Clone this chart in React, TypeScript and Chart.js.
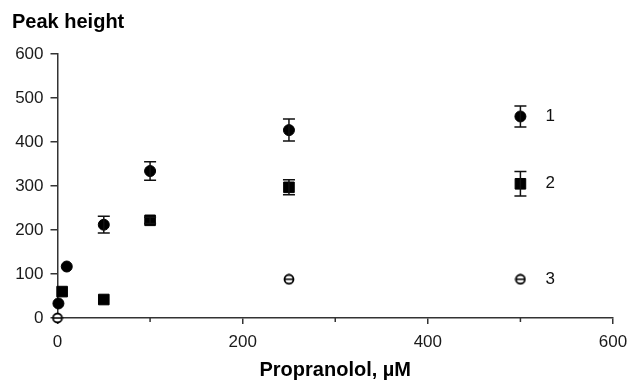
import React, { useEffect, useRef } from "react";
import { Chart, registerables } from "chart.js";

Chart.register(...registerables);

// Series 1 (filled circles)
const s1X = [1, 10, 50, 100, 250, 500];
const s1Y = [33, 117, 212, 334, 427, 458];
const s1Err = [0, 0, 19, 21, 25, 24];

// Series 2 (filled squares)
const s2X = [5, 50, 100, 250, 500];
const s2Y = [60, 42, 222, 297, 305];
const s2Err = [0, 0, 7, 17, 28];

// Series 3 (open circles)
const s3X = [0, 250, 500];
const s3Y = [0, 88, 88];
const s3Err = [0, 0, 0];

const seriesLabels = ["1", "2", "3"];
const xTicks = [0, 100, 200, 300, 400, 500, 600];
const yTicks = [0, 100, 200, 300, 400, 500, 600];

const FONT = "'Liberation Sans', Arial, Helvetica, sans-serif";
const AXIS = "#333333";

function toPoints(xs: number[], ys: number[]) {
  return xs.map((x, i) => ({ x, y: ys[i] }));
}

function makeTheta(): HTMLCanvasElement {
  const c = document.createElement("canvas");
  c.width = 12;
  c.height = 12;
  const g = c.getContext("2d")!;
  g.fillStyle = "#ffffff";
  g.strokeStyle = "#000000";
  g.lineWidth = 1.8;
  g.beginPath();
  g.arc(6, 6, 4.5, 0, Math.PI * 2);
  g.fill();
  g.stroke();
  g.lineWidth = 1.5;
  g.beginPath();
  g.moveTo(1.5, 6);
  g.lineTo(10.5, 6);
  g.stroke();
  return c;
}

const errs = [s1Err, s2Err, s3Err];

const errorBarPlugin = {
  id: "errorBars",
  afterDatasetsDraw(chart: any) {
    const { ctx } = chart;
    const yScale = chart.scales.y;
    ctx.save();
    ctx.strokeStyle = "#111111";
    ctx.lineWidth = 1.5;
    chart.data.datasets.forEach((ds: any, di: number) => {
      const meta = chart.getDatasetMeta(di);
      const e = errs[di];
      meta.data.forEach((el: any, i: number) => {
        const err = e[i];
        if (!err) return;
        const v = ds.data[i].y;
        const top = yScale.getPixelForValue(v + err);
        const bot = yScale.getPixelForValue(v - err);
        const x = el.x;
        ctx.beginPath();
        ctx.moveTo(x, top);
        ctx.lineTo(x, bot);
        ctx.moveTo(x - 6, top);
        ctx.lineTo(x + 6, top);
        ctx.moveTo(x - 6, bot);
        ctx.lineTo(x + 6, bot);
        ctx.stroke();
      });
    });
    ctx.restore();
  },
};

const extrasPlugin = {
  id: "extras",
  afterDraw(chart: any) {
    const { ctx } = chart;
    const xScale = chart.scales.x;
    ctx.save();
    // minor x ticks
    ctx.strokeStyle = AXIS;
    ctx.lineWidth = 1.5;
    xTicks.forEach((t) => {
      if (t % 200 === 0) return;
      const px = xScale.getPixelForValue(t);
      ctx.beginPath();
      ctx.moveTo(px, xScale.top);
      ctx.lineTo(px, xScale.top + 4);
      ctx.stroke();
    });
    // series labels
    ctx.fillStyle = "#111111";
    ctx.font = `17px ${FONT}`;
    ctx.textAlign = "left";
    ctx.textBaseline = "middle";
    chart.data.datasets.forEach((ds: any, di: number) => {
      const meta = chart.getDatasetMeta(di);
      const last = meta.data[meta.data.length - 1];
      ctx.fillText(seriesLabels[di], last.x + 25, last.y);
    });
    ctx.restore();
  },
};

export default function App() {
  const ref = useRef<HTMLCanvasElement>(null);

  useEffect(() => {
    document.body.style.margin = "0";
    const theta = makeTheta();
    const chart = new Chart(ref.current!, {
      type: "scatter",
      data: {
        datasets: [
          {
            data: toPoints(s1X, s1Y),
            pointStyle: "circle",
            pointRadius: 5.5,
            backgroundColor: "#000000",
            borderColor: "#000000",
            borderWidth: 1,
            clip: false,
          } as any,
          {
            data: toPoints(s2X, s2Y),
            pointStyle: "rect",
            pointRadius: 7.5,
            backgroundColor: "#000000",
            borderColor: "#000000",
            borderWidth: 1,
            clip: false,
          } as any,
          {
            data: toPoints(s3X, s3Y),
            pointStyle: theta,
            pointRadius: 6,
            backgroundColor: "#ffffff",
            borderColor: "#000000",
            clip: false,
          } as any,
        ],
      },
      options: {
        animation: false,
        responsive: false,
        events: [],
        layout: { padding: { left: 12, right: 19, top: 0, bottom: 0 } },
        plugins: {
          legend: { display: false },
          tooltip: { enabled: false },
          title: {
            display: true,
            text: "Peak height",
            align: "start",
            color: "#000000",
            font: { family: FONT, size: 20, weight: "bold", lineHeight: 1.2 },
            padding: { top: 10, bottom: 20 },
          },
        },
        scales: {
          x: {
            type: "linear",
            min: 0,
            max: 600,
            afterFit: (s: any) => {
              s.height = 62;
              s.paddingLeft = 0;
              s.paddingRight = 0;
            },
            afterBuildTicks: (s: any) => {
              s.ticks = xTicks.map((v) => ({ value: v }));
            },
            ticks: {
              color: "#1a1a1a",
              font: { family: FONT, size: 17 },
              padding: 8,
              maxRotation: 0,
              autoSkip: false,
              callback: (v: any) => (Number(v) % 200 === 0 ? String(v) : ""),
            },
            grid: {
              display: true,
              drawOnChartArea: false,
              drawTicks: true,
              tickLength: 6,
              lineWidth: 1.5,
              tickColor: (c: any) =>
                c.tick && c.tick.value % 200 === 0 ? AXIS : "rgba(0,0,0,0)",
            },
            border: { display: true, color: AXIS, width: 1.5 },
            title: {
              display: true,
              text: "Propranolol, µM",
              color: "#000000",
              font: { family: FONT, size: 20, weight: "bold", lineHeight: 1.0 },
              padding: { top: 0, bottom: 0 },
            },
          },
          y: {
            type: "linear",
            min: 0,
            max: 600,
            afterFit: (s: any) => {
              s.width = 45.5;
              s.paddingTop = 0;
              s.paddingBottom = 0;
            },
            afterBuildTicks: (s: any) => {
              s.ticks = yTicks.map((v) => ({ value: v }));
            },
            ticks: {
              color: "#1a1a1a",
              font: { family: FONT, size: 17 },
              padding: 7,
              autoSkip: false,
            },
            grid: {
              display: true,
              drawOnChartArea: false,
              drawTicks: true,
              tickLength: 7,
              lineWidth: 1.5,
              tickColor: AXIS,
            },
            border: { display: true, color: AXIS, width: 1.5 },
          },
        },
      },
      plugins: [errorBarPlugin, extrasPlugin],
    });
    return () => chart.destroy();
  }, []);

  return (
    <div style={{ width: 632, height: 380, background: "#ffffff" }}>
      <canvas ref={ref} width={632} height={380} />
    </div>
  );
}
